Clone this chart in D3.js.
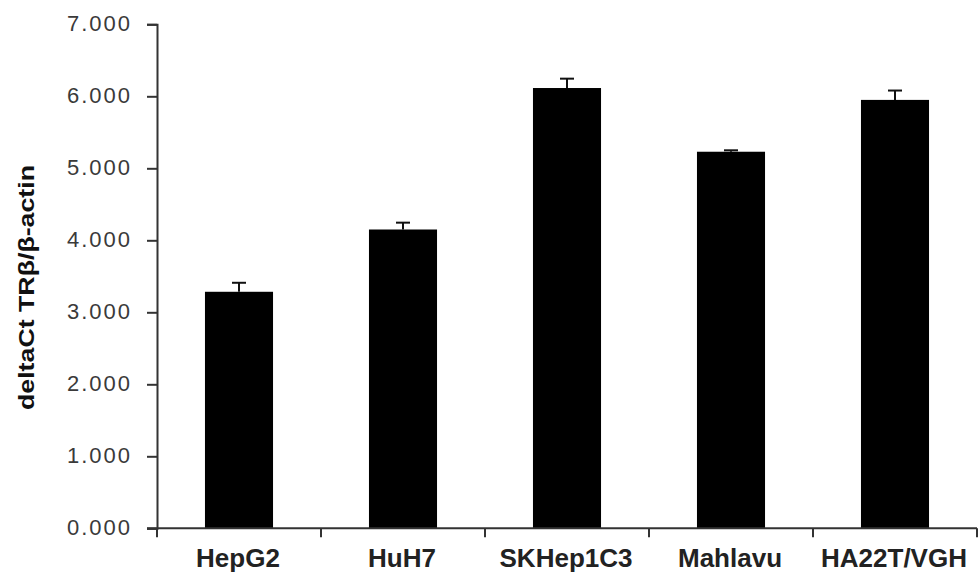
<!DOCTYPE html>
<html lang="en">
<head>
<meta charset="UTF-8">
<title>deltaCt TRβ/β-actin</title>
<script src="https://cdn.jsdelivr.net/npm/d3@7"></script>
<style>
body { margin: 0; background: #fff; }
svg { display: block; }
.ytick text { font-family: 'Liberation Sans', Arial, sans-serif; font-size: 22px; fill: #3a3a3a; letter-spacing: 2px; }
.xlab { font-family: 'Liberation Sans', Arial, sans-serif; font-size: 26px; font-weight: bold; fill: #222; }
.ytitle { font-family: 'Liberation Sans', Arial, sans-serif; font-size: 22px; font-weight: bold; fill: #111; }
</style>
</head>
<body>
<svg></svg>
<script>
// data
const cellLines = ["HepG2", "HuH7", "SKHep1C3", "Mahlavu", "HA22T/VGH"];
const deltaCt = [3.285, 4.15, 6.115, 5.23, 5.95];
const stdErr = [0.125, 0.095, 0.13, 0.02, 0.13];
const yTicks = [0, 1, 2, 3, 4, 5, 6, 7];

const W = 978, H = 577;
const svg = d3.select("svg").attr("width", W).attr("height", H);

const plotLeft = 157, plotRight = 977, plotTop = 24.3, plotBottom = 528.3;

const y = d3.scaleLinear().domain([0, 7]).range([plotBottom, plotTop]);
const pad = 0.585;
const x = d3.scaleBand().domain(cellLines).range([plotLeft, plotRight])
    .paddingInner(pad).paddingOuter(pad / 2);

const axisColor = "#333";

// y axis
const yAxis = svg.append("g").attr("transform", `translate(${plotLeft},0)`)
    .call(d3.axisLeft(y).tickValues(yTicks).tickFormat(d3.format(".3f")).tickSize(10).tickPadding(15));
yAxis.select(".domain").attr("stroke", axisColor).attr("stroke-width", 2);
yAxis.selectAll(".tick").attr("class", "tick ytick");
yAxis.selectAll(".tick line").attr("stroke", axisColor).attr("stroke-width", 2);
yAxis.selectAll(".tick text").attr("dy", "0.3em");
yAxis.attr("font-family", null).attr("font-size", null);

// bars
svg.append("g").selectAll("rect")
    .data(cellLines)
    .join("rect")
    .attr("x", d => x(d))
    .attr("width", x.bandwidth())
    .attr("y", (d, i) => y(deltaCt[i]))
    .attr("height", (d, i) => y(0) - y(deltaCt[i]))
    .attr("fill", "#000");

// error bars (upper only)
const eb = svg.append("g").attr("stroke", "#111").attr("stroke-width", 2);
cellLines.forEach((c, i) => {
    const cx = x(c) + x.bandwidth() / 2;
    const y0 = y(deltaCt[i]), y1 = y(deltaCt[i] + stdErr[i]);
    eb.append("line").attr("x1", cx).attr("x2", cx).attr("y1", y0).attr("y2", y1);
    eb.append("line").attr("x1", cx - 7).attr("x2", cx + 7).attr("y1", y1).attr("y2", y1);
});

// x axis line with ticks at category boundaries
const xa = svg.append("g").attr("stroke", axisColor).attr("stroke-width", 2);
xa.append("line").attr("x1", plotLeft - 10).attr("x2", plotRight).attr("y1", plotBottom).attr("y2", plotBottom);
d3.range(cellLines.length + 1).forEach(i => {
    const tx = plotLeft + i * x.step();
    xa.append("line").attr("x1", tx).attr("x2", tx).attr("y1", plotBottom).attr("y2", plotBottom + 9);
});

// category labels
svg.append("g").selectAll("text")
    .data(cellLines)
    .join("text")
    .attr("class", "xlab")
    .attr("x", d => x(d) + x.bandwidth() / 2 - 1)
    .attr("y", 566.5)
    .attr("text-anchor", "middle")
    .text(d => d);

// y title
svg.append("text")
    .attr("class", "ytitle")
    .attr("transform", "translate(34,287.5) rotate(-90)")
    .attr("text-anchor", "middle")
    .attr("textLength", 245)
    .attr("lengthAdjust", "spacingAndGlyphs")
    .text("deltaCt TRβ/β-actin");
</script>
</body>
</html>
